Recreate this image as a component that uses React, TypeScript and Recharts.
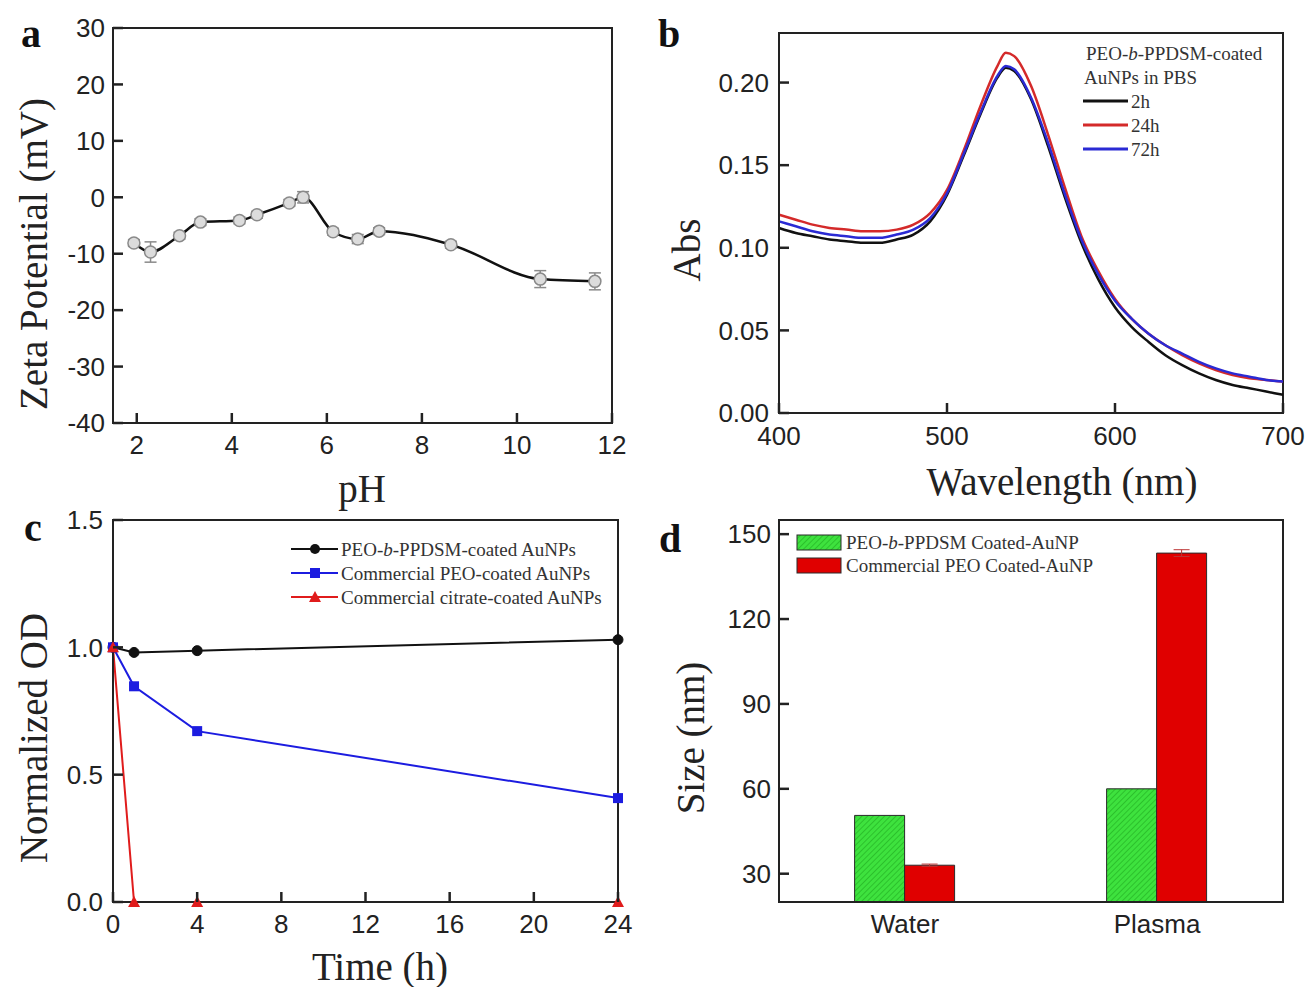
import React from "react";
import { LineChart, Line, BarChart, Bar, XAxis, YAxis, ErrorBar, ReferenceArea } from "recharts";

// ---- panel a: zeta potential vs pH
const phValues = [1.94, 2.29, 2.9, 3.34, 4.16, 4.53, 5.21, 5.5, 6.13, 6.65, 7.1, 8.61, 10.49, 11.64];
const zetaValues = [-8.1, -9.7, -6.8, -4.4, -4.1, -3.1, -1.0, 0.0, -6.1, -7.4, -6.0, -8.4, -14.5, -14.9];
const zetaErrors = [0.6, 1.8, 0.6, 0.6, 0.6, 0.6, 0.6, 1.0, 0.6, 0.8, 0.6, 0.6, 1.5, 1.5];
const phTicks = [2, 4, 6, 8, 10, 12];
const zetaTicks = [-40, -30, -20, -10, 0, 10, 20, 30];

// ---- panel b: UV-vis spectra
const wavelengths = [400, 410, 420, 430, 440, 450, 460, 470, 480, 490, 500, 510, 520, 530, 535, 540, 550, 560, 570, 580, 590, 600, 610, 620, 630, 640, 650, 660, 670, 680, 690, 700];
const abs2h = [0.112, 0.109, 0.107, 0.105, 0.104, 0.103, 0.103, 0.105, 0.108, 0.116, 0.132, 0.156, 0.181, 0.203, 0.209, 0.207, 0.19, 0.162, 0.131, 0.103, 0.081, 0.064, 0.052, 0.043, 0.035, 0.029, 0.024, 0.02, 0.017, 0.015, 0.013, 0.011];
const abs24h = [0.12, 0.117, 0.114, 0.112, 0.111, 0.11, 0.11, 0.111, 0.114, 0.121, 0.135, 0.159, 0.186, 0.21, 0.218, 0.216, 0.198, 0.169, 0.137, 0.107, 0.086, 0.069, 0.057, 0.048, 0.041, 0.035, 0.03, 0.026, 0.023, 0.021, 0.02, 0.019];
const abs72h = [0.116, 0.113, 0.11, 0.108, 0.107, 0.106, 0.106, 0.108, 0.111, 0.118, 0.133, 0.157, 0.182, 0.204, 0.21, 0.208, 0.191, 0.164, 0.133, 0.105, 0.084, 0.068, 0.057, 0.048, 0.041, 0.036, 0.031, 0.027, 0.024, 0.022, 0.02, 0.019];
const wlTicks = [400, 500, 600, 700];
const absTicks = [0, 0.05, 0.1, 0.15, 0.2];

// ---- panel c: normalized OD vs time
const hours = [0, 1, 4, 24];
const odPpdsm = [1.0, 0.98, 0.987, 1.03];
const odCommercialPeo = [1.0, 0.847, 0.671, 0.408];
const odCitrate = [1.0, 0, 0, 0];
const hourTicks = [0, 4, 8, 12, 16, 20, 24];
const odTicks = [0, 0.5, 1.0, 1.5];

// ---- panel d: particle size
const media = ["Water", "Plasma"];
const sizePpdsm = [50.6, 60];
const sizeCommercial = [33, 143.3];
const sizeCommercialErr = [0.4, 1.2];
const sizeTicks = [30, 60, 90, 120, 150];

const serif = '"Liberation Serif", "Times New Roman", serif';
const sans = '"Liberation Sans", Arial, sans-serif';
const ink = "#222";
const tickFont = { fontFamily: sans, fontSize: 26, fill: ink };
const TICK_LEN = 10;

const zetaData = phValues.map((ph, i) => ({ ph, zeta: zetaValues[i], err: zetaErrors[i] }));
const spectra = wavelengths.map((w, i) => ({ w, h2: abs2h[i], h24: abs24h[i], h72: abs72h[i] }));
const odData = hours.map((t, i) => ({ t, a: odPpdsm[i], b: odCommercialPeo[i], c: odCitrate[i] }));
const sizeData = media.map((m, i) => ({ m, g: sizePpdsm[i], r: sizeCommercial[i], rErr: sizeCommercialErr[i] }));

// ticks pointing into the plot, label outside
function BottomTick(props: any) {
  const { x, y, payload, gap, fmt } = props;
  const v = fmt ? fmt(payload.value) : String(payload.value);
  return (
    <g>
      <path d={`M${x},${y - gap}V${y - gap - TICK_LEN}`} stroke={ink} strokeWidth={2.5} fill="none" />
      <text x={x} y={y} dy="0.71em" textAnchor="middle" {...tickFont}>{v}</text>
    </g>
  );
}
function LeftTick(props: any) {
  const { x, y, payload, gap, fmt } = props;
  const v = fmt ? fmt(payload.value) : String(payload.value);
  return (
    <g>
      <path d={`M${x + gap},${y}H${x + gap + TICK_LEN}`} stroke={ink} strokeWidth={2.5} fill="none" />
      <text x={x} y={y} dy="0.355em" textAnchor="end" {...tickFont}>{v}</text>
    </g>
  );
}
const bottomTick = (gap: number, fmt?: (v: number) => string) => (p: any) => <BottomTick {...p} gap={gap} fmt={fmt} />;
const leftTick = (gap: number, fmt?: (v: number) => string) => (p: any) => <LeftTick {...p} gap={gap} fmt={fmt} />;

const blue = "#1c1ce0";
const red = "#e01c1c";

const squareDot = (p: any) =>
  p.cx == null ? <g key={`s${p.index}`} /> : <rect key={`s${p.index}`} x={p.cx - 5} y={p.cy - 5} width={10} height={10} fill={blue} />;
const triangleDot = (p: any) =>
  p.cx == null ? <g key={`t${p.index}`} /> : (
    <polygon key={`t${p.index}`} points={`${p.cx},${p.cy - 6} ${p.cx - 6},${p.cy + 5} ${p.cx + 6},${p.cy + 5}`} fill={red} />
  );

function PanelA() {
  return (
    <LineChart width={655} height={500} data={zetaData} margin={{ top: 28, right: 43, left: 53, bottom: 37 }}>
      <XAxis type="number" dataKey="ph" domain={[1.5, 12]} ticks={phTicks} height={40} tick={bottomTick(13)}
        tickLine={false} tickSize={0} tickMargin={13} stroke={ink} strokeWidth={2} />
      <YAxis type="number" domain={[-40, 30]} ticks={zetaTicks} width={60} tick={leftTick(8)}
        tickLine={false} tickSize={0} tickMargin={8} stroke={ink} strokeWidth={2} />
      <ReferenceArea x1={1.5} x2={12} y1={-40} y2={30} fill="none" stroke={ink} strokeWidth={2} ifOverflow="visible" />
      <Line dataKey="zeta" type="monotone" stroke="#111" strokeWidth={2.5} isAnimationActive={false}
        dot={{ r: 6, fill: "#dcdcdc", stroke: "#8a8a8a", strokeWidth: 1.5 }}>
        <ErrorBar dataKey="err" width={6} stroke="#8a8a8a" strokeWidth={1.5} direction="y" />
      </Line>
    </LineChart>
  );
}

function PanelB() {
  return (
    <LineChart width={670} height={500} data={spectra} margin={{ top: 33, right: 27, left: 59, bottom: 47 }}>
      <XAxis type="number" dataKey="w" domain={[400, 700]} ticks={wlTicks} height={40} tick={bottomTick(14)}
        tickLine={false} tickSize={0} tickMargin={14} stroke={ink} strokeWidth={2} />
      <YAxis type="number" domain={[0, 0.23]} ticks={absTicks} width={80}
        tick={leftTick(10, (v) => v.toFixed(2))} tickLine={false} tickSize={0} tickMargin={10} stroke={ink} strokeWidth={2} />
      <ReferenceArea x1={400} x2={700} y1={0} y2={0.23} fill="none" stroke={ink} strokeWidth={2} ifOverflow="visible" />
      <Line dataKey="h2" type="monotone" stroke="#111" strokeWidth={2.5} dot={false} isAnimationActive={false} />
      <Line dataKey="h24" type="monotone" stroke="#d42a2a" strokeWidth={2.5} dot={false} isAnimationActive={false} />
      <Line dataKey="h72" type="monotone" stroke="#2a2ad4" strokeWidth={2.5} dot={false} isAnimationActive={false} />
    </LineChart>
  );
}

function PanelC() {
  return (
    <LineChart width={655} height={487} data={odData} margin={{ top: 20, right: 37, left: 53, bottom: 45 }}>
      <XAxis type="number" dataKey="t" domain={[0, 24]} ticks={hourTicks} height={40} tick={bottomTick(13)}
        tickLine={false} tickSize={0} tickMargin={13} stroke={ink} strokeWidth={2} />
      <YAxis type="number" domain={[0, 1.5]} ticks={odTicks} width={60}
        tick={leftTick(10, (v) => v.toFixed(1))} tickLine={false} tickSize={0} tickMargin={10} stroke={ink} strokeWidth={2} />
      <ReferenceArea x1={0} x2={24} y1={0} y2={1.5} fill="none" stroke={ink} strokeWidth={2} ifOverflow="visible" />
      <Line dataKey="a" type="linear" stroke="#111" strokeWidth={2} isAnimationActive={false}
        dot={{ r: 5, fill: "#111", stroke: "#111", strokeWidth: 1 }} />
      <Line dataKey="b" type="linear" stroke={blue} strokeWidth={2} isAnimationActive={false} dot={squareDot} />
      <Line dataKey="c" type="linear" stroke={red} strokeWidth={2} isAnimationActive={false} dot={triangleDot} />
    </LineChart>
  );
}

function PanelD() {
  return (
    <BarChart width={670} height={487} data={sizeData} margin={{ top: 20, right: 27, left: 59, bottom: 45 }}
      barCategoryGap="30%" barGap={0}>
      <defs>
        <pattern id="greenHatch" patternUnits="userSpaceOnUse" width={4} height={4} patternTransform="rotate(45)">
          <rect width={4} height={4} fill="#3ee23e" />
          <line x1={0} y1={0} x2={0} y2={4} stroke="#22b022" strokeWidth={1.3} />
        </pattern>
      </defs>
      <XAxis type="category" dataKey="m" height={40} tick={tickFont} tickLine={false} tickSize={0}
        tickMargin={13} stroke={ink} strokeWidth={2} />
      <YAxis type="number" domain={[20, 155]} ticks={sizeTicks} width={80} tick={leftTick(8)}
        tickLine={false} tickSize={0} tickMargin={8} stroke={ink} strokeWidth={2} />
      <ReferenceArea x1="Water" x2="Plasma" y1={20} y2={155} fill="none" stroke={ink} strokeWidth={2} ifOverflow="visible" />
      <Bar dataKey="g" fill="url(#greenHatch)" stroke="#2a2a2a" strokeWidth={1} isAnimationActive={false} />
      <Bar dataKey="r" fill="#e00000" stroke="#2a2a2a" strokeWidth={1} isAnimationActive={false}>
        <ErrorBar dataKey="rErr" width={8} stroke="#b33" strokeWidth={1} direction="y" />
      </Bar>
    </BarChart>
  );
}

const legendText = { fontFamily: serif, fontSize: 19, fill: "#333" };
const titleText = { fontFamily: serif, fontSize: 39, fill: ink };
const letterText = { fontFamily: serif, fontSize: 40, fontWeight: 700, fill: "#111" };

function Overlay() {
  const rot = (x: number, y: number) => `rotate(-90 ${x} ${y})`;
  const specSeries = [
    { name: "2h", color: "#111" },
    { name: "24h", color: "#d42a2a" },
    { name: "72h", color: "#2a2ad4" },
  ];
  return (
    <svg width={1310} height={987} style={{ position: "absolute", left: 0, top: 0, pointerEvents: "none" }}>
      <defs>
        <pattern id="greenHatchLegend" patternUnits="userSpaceOnUse" width={4} height={4} patternTransform="rotate(45)">
          <rect width={4} height={4} fill="#3ee23e" />
          <line x1={0} y1={0} x2={0} y2={4} stroke="#22b022" strokeWidth={1.3} />
        </pattern>
      </defs>

      {/* panel letters */}
      <text x={31} y={47} textAnchor="middle" {...letterText}>a</text>
      <text x={669} y={47} textAnchor="middle" {...letterText}>b</text>
      <text x={33} y={541} textAnchor="middle" {...letterText}>c</text>
      <text x={670} y={552} textAnchor="middle" {...letterText}>d</text>

      {/* axis titles */}
      <text x={33} y={254} textAnchor="middle" dominantBaseline="central" transform={rot(33, 254)} {...titleText}>Zeta Potential (mV)</text>
      <text x={362} y={488} textAnchor="middle" dominantBaseline="central" {...titleText}>pH</text>
      <text x={686} y={250} textAnchor="middle" dominantBaseline="central" transform={rot(686, 250)} {...titleText}>Abs</text>
      <text x={1062} y={481} textAnchor="middle" dominantBaseline="central" {...titleText}>Wavelength (nm)</text>
      <text x={33} y={738} textAnchor="middle" dominantBaseline="central" transform={rot(33, 738)} {...titleText}>Normalized OD</text>
      <text x={380} y={966} textAnchor="middle" dominantBaseline="central" {...titleText}>Time (h)</text>
      <text x={690} y={738} textAnchor="middle" dominantBaseline="central" transform={rot(690, 738)} {...titleText}>Size (nm)</text>

      {/* panel b legend */}
      <text x={1086} y={53} dominantBaseline="central" {...legendText}>
        PEO-<tspan fontStyle="italic">b</tspan>-PPDSM-coated
      </text>
      <text x={1084} y={77} dominantBaseline="central" {...legendText}>AuNPs in PBS</text>
      {specSeries.map((s, i) => (
        <g key={s.name}>
          <line x1={1083} x2={1128} y1={101 + i * 24} y2={101 + i * 24} stroke={s.color} strokeWidth={3} />
          <text x={1131} y={101 + i * 24} dominantBaseline="central" {...legendText}>{s.name}</text>
        </g>
      ))}

      {/* panel c legend */}
      <g>
        <line x1={291} x2={338} y1={549} y2={549} stroke="#111" strokeWidth={2} />
        <circle cx={315} cy={549} r={5} fill="#111" />
        <text x={341} y={549} dominantBaseline="central" {...legendText}>
          PEO-<tspan fontStyle="italic">b</tspan>-PPDSM-coated AuNPs
        </text>
        <line x1={291} x2={338} y1={573} y2={573} stroke={blue} strokeWidth={2} />
        <rect x={310} y={568} width={10} height={10} fill={blue} />
        <text x={341} y={573} dominantBaseline="central" {...legendText}>Commercial PEO-coated AuNPs</text>
        <line x1={291} x2={338} y1={597} y2={597} stroke={red} strokeWidth={2} />
        <polygon points="315,591 309,602 321,602" fill={red} />
        <text x={341} y={597} dominantBaseline="central" {...legendText}>Commercial citrate-coated AuNPs</text>
      </g>

      {/* panel d legend */}
      <g>
        <rect x={797} y={535} width={44} height={15} fill="url(#greenHatchLegend)" stroke="#2a2a2a" strokeWidth={1} />
        <text x={846} y={542} dominantBaseline="central" {...legendText}>
          PEO-<tspan fontStyle="italic">b</tspan>-PPDSM Coated-AuNP
        </text>
        <rect x={797} y={558} width={44} height={15} fill="#e00000" stroke="#2a2a2a" strokeWidth={1} />
        <text x={846} y={565} dominantBaseline="central" {...legendText}>Commercial PEO Coated-AuNP</text>
      </g>
    </svg>
  );
}

export default function App() {
  return (
    <div style={{ position: "absolute", left: 0, top: 0, width: 1310, height: 987, background: "#fff", overflow: "hidden" }}>
      <div style={{ position: "absolute", left: 0, top: 0 }}><PanelA /></div>
      <div style={{ position: "absolute", left: 640, top: 0 }}><PanelB /></div>
      <div style={{ position: "absolute", left: 0, top: 500 }}><PanelC /></div>
      <div style={{ position: "absolute", left: 640, top: 500 }}><PanelD /></div>
      <Overlay />
    </div>
  );
}
